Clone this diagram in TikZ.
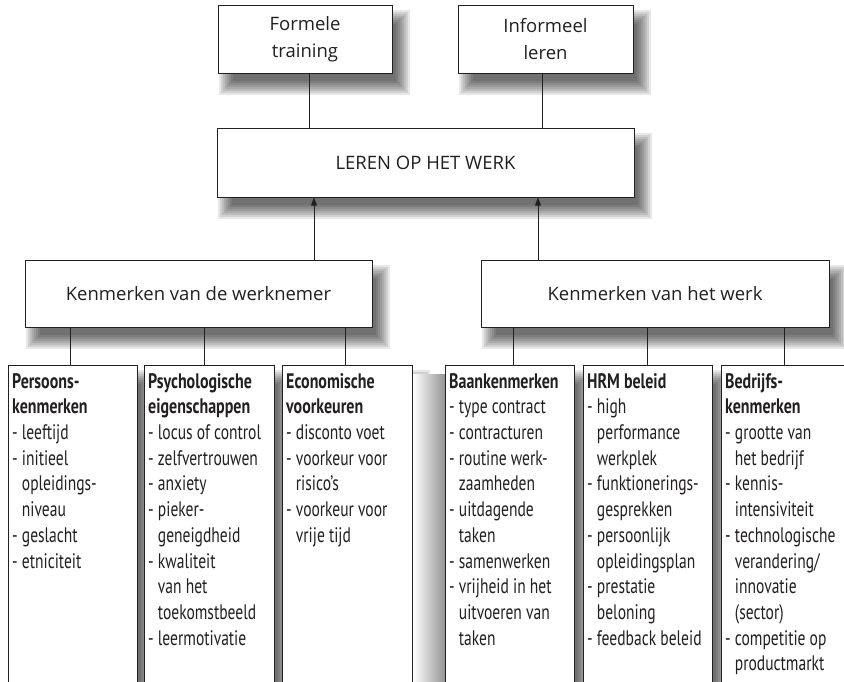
\documentclass[tikz,border=0pt]{standalone}
\usepackage{fontspec}
\setmainfont{Open Sans}
\newfontfamily\condfont[FakeStretch=0.74]{PT Sans}
\newfontfamily\condbf[FakeStretch=0.76]{PT Sans}
\usetikzlibrary{arrows.meta,backgrounds}
\definecolor{linec}{HTML}{231F20}
\definecolor{textc}{HTML}{231F20}
\newcommand\ind{\hphantom{-~}}
\newcommand\hd[1]{{\condbf\bfseries #1}}
% soft drop shadow: stacked translucent rectangles
\newcommand\dropshadow[1]{%
  \foreach \r in {0,2,...,14}{%
    \fill[black, opacity=0.095]
      ([shift={({15-\r},{19-\r})}]#1.north west) rectangle
      ([shift={({3+\r},{7+\r})}]#1.south east);
  }}
\begin{document}
\begin{tikzpicture}[x=1pt,y=-1pt,
  box/.style={draw=linec, line width=1pt, fill=white},
  main/.style={box, font=\fontsize{18.5}{27}\selectfont, align=center, inner sep=0pt, text=textc},
  sub/.style={box, inner sep=0pt, anchor=north west, minimum height=340pt},
  lst/.style={anchor=north west, inner sep=0pt, align=left, text=textc,
    font=\condfont\fontsize{21}{25.7}\selectfont},
  conn/.style={draw=linec, line width=1pt},
  arr/.style={conn, -{Triangle[length=8pt,width=6pt]}}
]
\useasboundingbox (0,0) rectangle (844,681);

% top level
\node[main, minimum width=174pt, minimum height=68pt] (ftrain) at (305,39) {Formele\\training};
\node[main, minimum width=175pt, minimum height=68pt] (ileren) at (545.5,39) {Informeel\\leren};
\node[main, minimum width=417pt, minimum height=69pt] (leren) at (425.5,162.5) {LEREN OP HET WERK};
\node[main, minimum width=347pt, minimum height=67pt] (kwn) at (198.5,293.5) {Kenmerken van de werknemer};
\node[main, minimum width=348pt, minimum height=67pt] (kwk) at (655,293.5) {Kenmerken van het werk};

% sub boxes
\node[sub, minimum width=129pt] (b1) at (8,365) {};
\node[sub, minimum width=130pt] (b2) at (144,365) {};
\node[sub, minimum width=130pt] (b3) at (282,365) {};
\node[sub, minimum width=129pt] (b4) at (445,365) {};
\node[sub, minimum width=129pt] (b5) at (583,365) {};
\node[sub, minimum width=130pt] (b6) at (721,365) {};

% shadows behind everything
\begin{scope}[on background layer]
  \fill[white] (0,0) rectangle (844,681);
  \dropshadow{ftrain}
  \dropshadow{ileren}
  \dropshadow{leren}
  \dropshadow{kwn}
  \dropshadow{kwk}
  \dropshadow{b1}
  \dropshadow{b2}
  \dropshadow{b3}
  \dropshadow{b4}
  \dropshadow{b5}
  \dropshadow{b6}
  \shade[left color=white, right color=black!42] (b3.north east |- 0,374) rectangle (b4.south west);
\end{scope}

% texts
\node[lst] (t1) at ([xshift=4pt,yshift=-8pt]b1.north west)
 {\hd{Persoons-}\\\hd{kenmerken}\\- leeftijd\\- initieel\\\ind opleidings-\\\ind niveau\\- geslacht\\- etniciteit};
\node[lst] (t2) at ([xshift=4pt,yshift=-8pt]b2.north west)
 {\hd{Psychologische}\\\hd{eigenschappen}\\- locus of control\\- zelfvertrouwen\\- anxiety\\- pieker-\\\ind geneigdheid\\- kwaliteit\\\ind van het\\\ind toekomstbeeld\\- leermotivatie};
\node[lst] (t3) at ([xshift=4pt,yshift=-8pt]b3.north west)
 {\hd{Economische}\\\hd{voorkeuren}\\- disconto voet\\- voorkeur voor\\\ind risico’s\\- voorkeur voor\\\ind vrije tijd};
\node[lst] (t4) at ([xshift=4pt,yshift=-8pt]b4.north west)
 {\hd{Baankenmerken}\\- type contract\\- contracturen\\- routine werk-\\\ind zaamheden\\- uitdagende\\\ind taken\\- samenwerken\\- vrijheid in het\\\ind uitvoeren van\\\ind taken};
\node[lst] (t5) at ([xshift=4pt,yshift=-8pt]b5.north west)
 {\hd{HRM beleid}\\- high\\\ind performance\\\ind werkplek\\- funktionerings-\\\ind gesprekken\\- persoonlijk\\\ind opleidingsplan\\- prestatie\\\ind beloning\\- feedback beleid};
\node[lst] (t6) at ([xshift=4pt,yshift=-8pt]b6.north west)
 {\hd{Bedrijfs-}\\\hd{kenmerken}\\- grootte van\\\ind het bedrijf\\- kennis-\\\ind intensiviteit\\- technologische\\\ind verandering/\\\ind innovatie\\\ind (sector)\\- competitie op\\\ind productmarkt};

% connectors
\draw[conn] ([xshift=4pt]ftrain.south) -- ([xshift=4pt]ftrain.south |- leren.north);
\draw[conn] ([xshift=-3.5pt]ileren.south) -- ([xshift=-3.5pt]ileren.south |- leren.north);
\draw[arr] (314,0 |- kwn.north) -- (314,0 |- leren.south);
\draw[arr] (538,0 |- kwk.north) -- (538,0 |- leren.south);
\draw[conn] ([xshift=-2.5pt]b1.north |- kwn.south) -- ([xshift=-2.5pt]b1.north);
\draw[conn] ([xshift=-5pt]b2.north |- kwn.south) -- ([xshift=-5pt]b2.north);
\draw[conn] ([xshift=-2pt]b3.north |- kwn.south) -- ([xshift=-2pt]b3.north);
\draw[conn] ([xshift=3.5pt]b4.north |- kwk.south) -- ([xshift=3.5pt]b4.north);
\draw[conn] ([xshift=-0.5pt]b5.north |- kwk.south) -- ([xshift=-0.5pt]b5.north);
\draw[conn] ([xshift=-2.5pt]b6.north |- kwk.south) -- ([xshift=-2.5pt]b6.north);
\end{tikzpicture}
\end{document}
